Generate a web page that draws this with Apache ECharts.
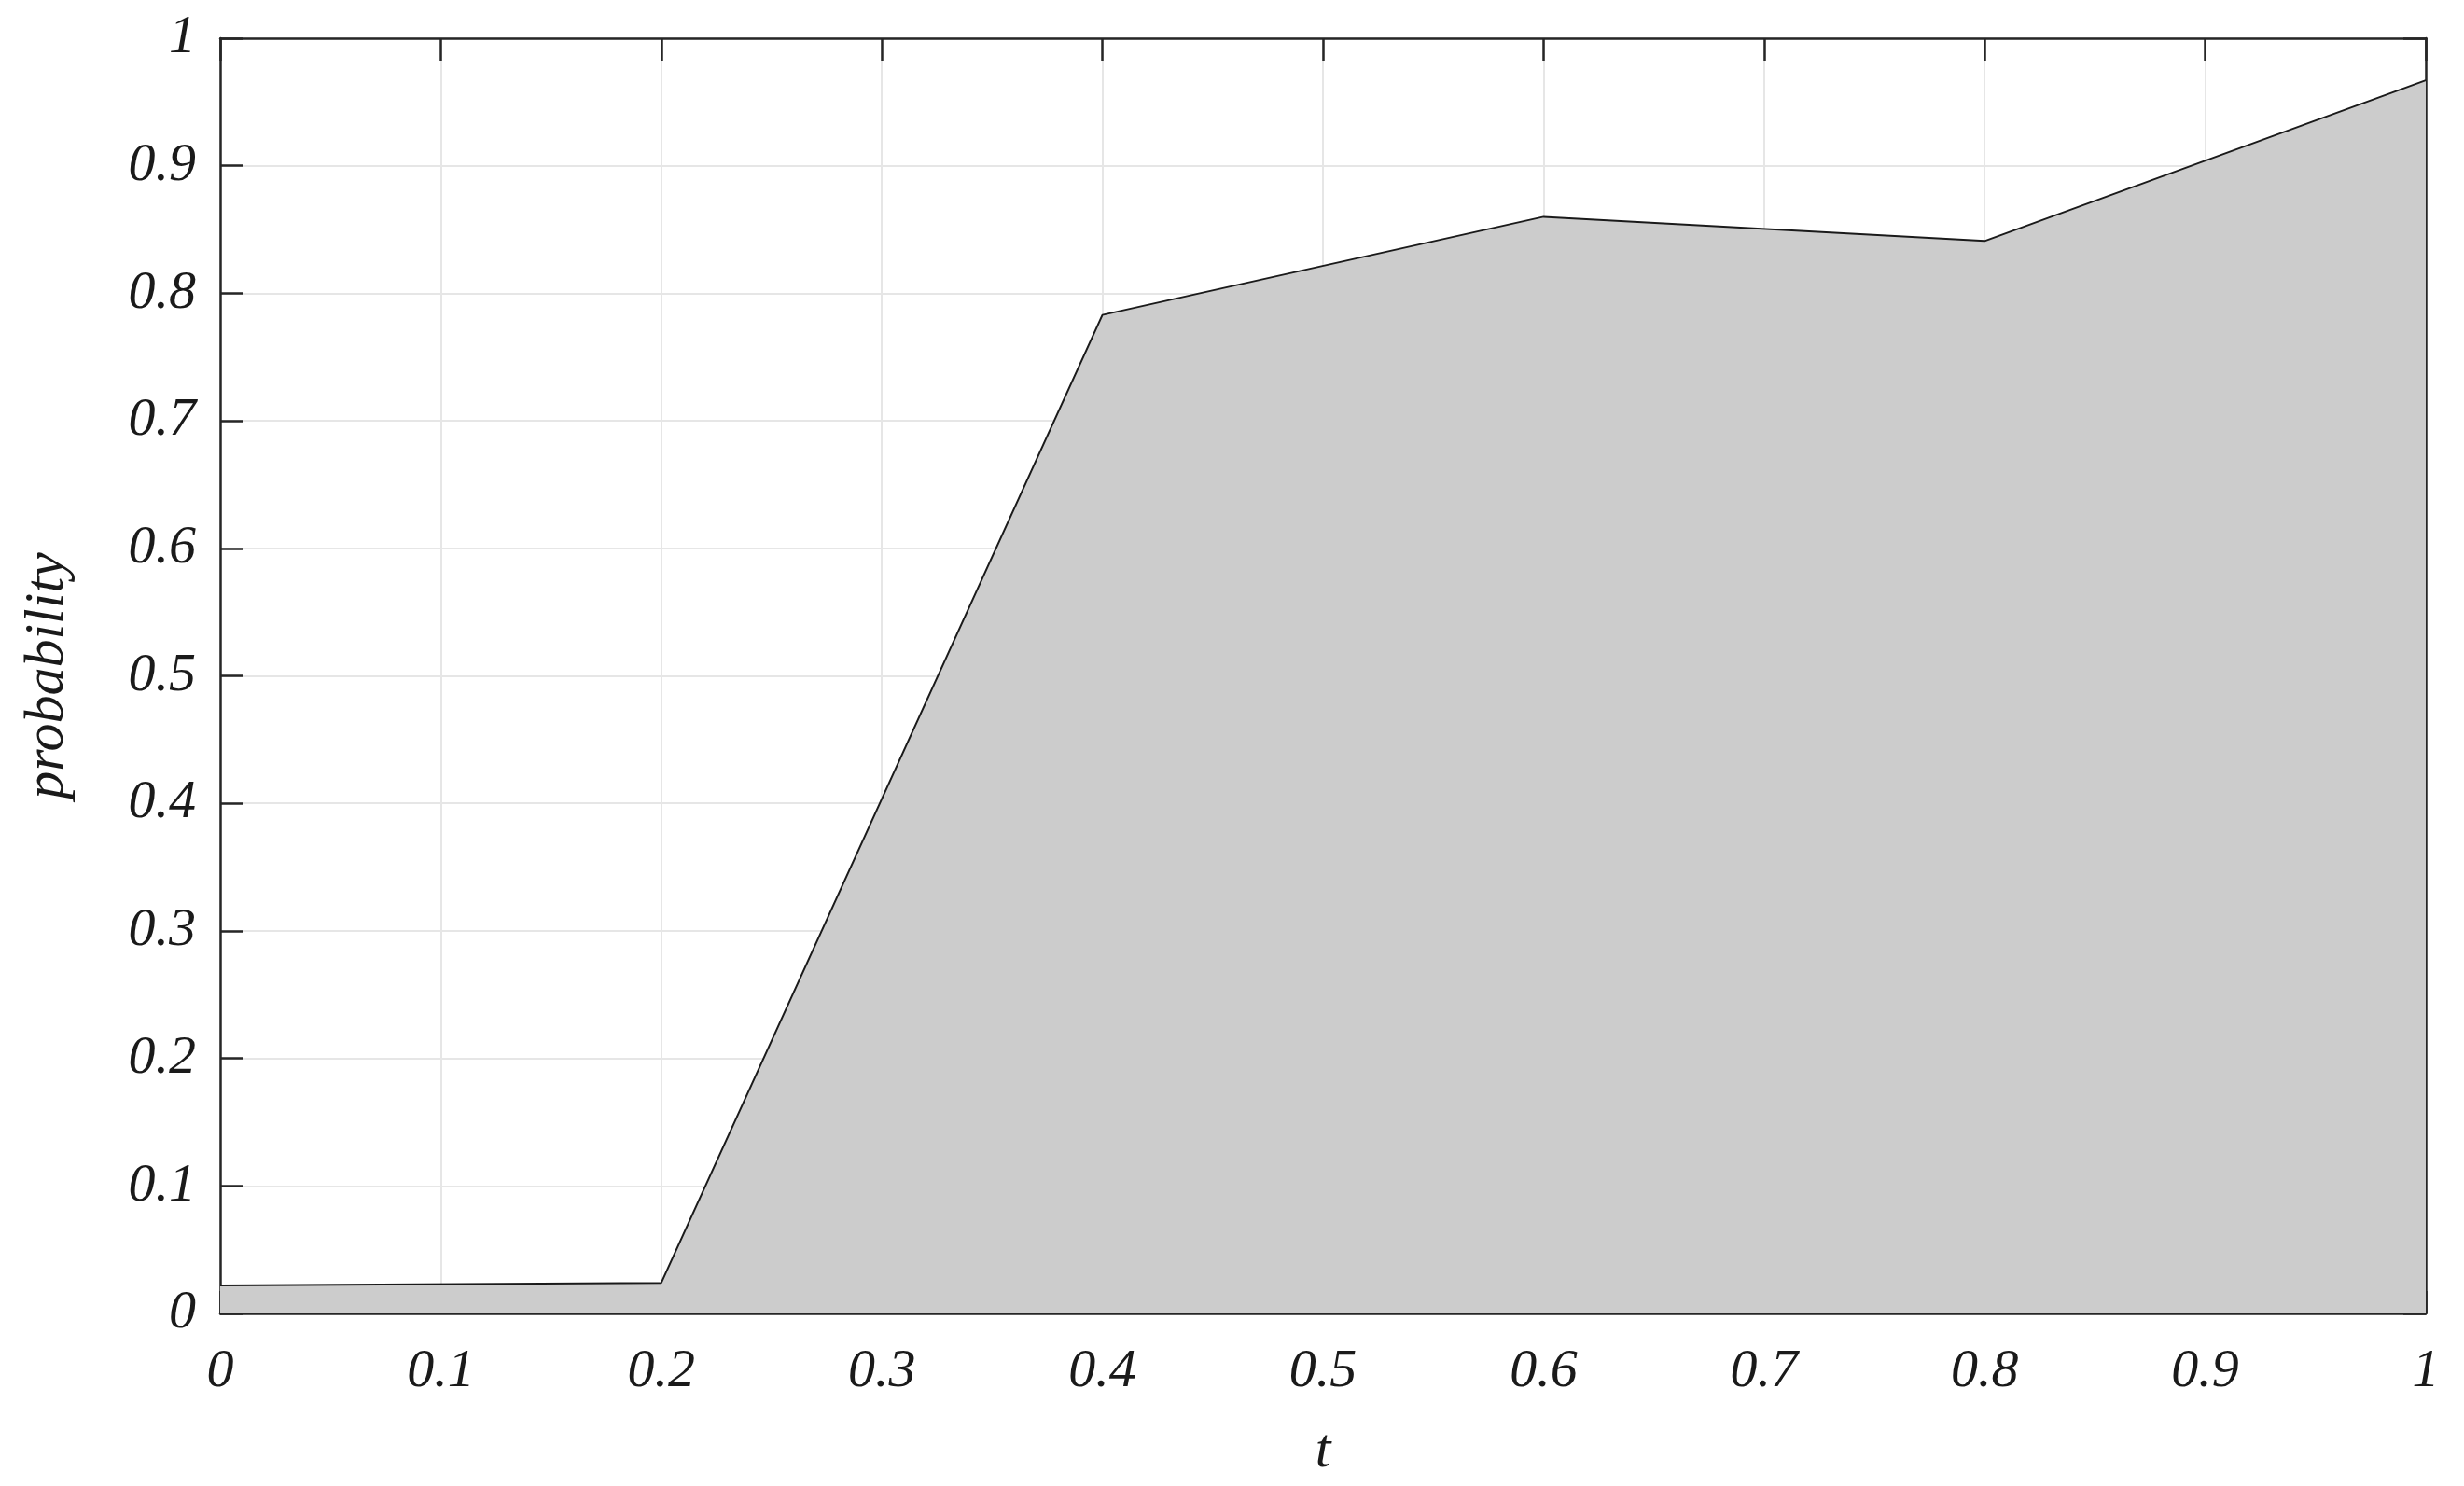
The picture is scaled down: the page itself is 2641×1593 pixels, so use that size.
<!DOCTYPE html>
<html>
<head>
<meta charset="utf-8">
<script src="https://cdn.jsdelivr.net/npm/echarts@6/dist/echarts.min.js"></script>
<style>
html,body{margin:0;padding:0;background:#fff;}
#chart{width:2641px;height:1593px;}
</style>
</head>
<body>
<div id="chart"></div>
<script>
const tValues = [0, 0.2, 0.4, 0.6, 0.8, 1.0];
const probValues = [0.022, 0.024, 0.783, 0.860, 0.841, 0.967];
const xTickLabels = ['0','0.1','0.2','0.3','0.4','0.5','0.6','0.7','0.8','0.9','1'];
const yTickLabels = ['0','0.1','0.2','0.3','0.4','0.5','0.6','0.7','0.8','0.9','1'];
const xTitle = 't';
const yTitle = 'probability';

const fontFam = '"Liberation Serif", "DejaVu Serif", serif';
const axisColor = '#262626';
const labelStyle = {fontFamily: fontFam, fontStyle: 'italic', fontSize: 58, color: '#1a1a1a'};

function fmt(list){ return function(v){ const i = Math.round(v*10); return list[i] !== undefined ? list[i] : ''; }; }

const chart = echarts.init(document.getElementById('chart'), null, {renderer: 'canvas'});
chart.setOption({
  backgroundColor: '#ffffff',
  animation: false,
  grid: {left: 236, right: 41, top: 41, bottom: 185, containLabel: false, outerBoundsMode: 'none'},
  xAxis: [
    {
      type: 'value', min: 0, max: 1, interval: 0.1, position: 'bottom',
      name: xTitle, nameLocation: 'middle', nameGap: 118,
      nameTextStyle: Object.assign({}, labelStyle, {fontSize: 60}),
      axisLine: {show: true, onZero: false, lineStyle: {color: axisColor, width: 2.5}},
      axisTick: {show: true, inside: true, length: 24, lineStyle: {color: axisColor, width: 2.5}},
      axisLabel: Object.assign({}, labelStyle, {margin: 34, formatter: fmt(xTickLabels)}),
      splitLine: {show: true, lineStyle: {color: '#e6e6e6', width: 2}}
    },
    {
      type: 'value', min: 0, max: 1, interval: 0.1, position: 'top',
      axisLine: {show: true, onZero: false, lineStyle: {color: axisColor, width: 2.5}},
      axisTick: {show: true, inside: true, length: 24, lineStyle: {color: axisColor, width: 2.5}},
      axisLabel: {show: false},
      splitLine: {show: false}
    }
  ],
  yAxis: [
    {
      type: 'value', min: 0, max: 1, interval: 0.1, position: 'left',
      name: yTitle, nameLocation: 'middle', nameGap: 155, nameRotate: 90,
      nameTextStyle: Object.assign({}, labelStyle, {fontSize: 60}),
      axisLine: {show: true, onZero: false, lineStyle: {color: axisColor, width: 2.5}},
      axisTick: {show: true, inside: true, length: 24, lineStyle: {color: axisColor, width: 2.5}},
      axisLabel: Object.assign({}, labelStyle, {margin: 26, formatter: fmt(yTickLabels)}),
      splitLine: {show: true, lineStyle: {color: '#e6e6e6', width: 2}}
    },
    {
      type: 'value', min: 0, max: 1, interval: 0.1, position: 'right',
      axisLine: {show: true, onZero: false, lineStyle: {color: axisColor, width: 2.5}},
      axisTick: {show: true, inside: true, length: 24, lineStyle: {color: axisColor, width: 2.5}},
      axisLabel: {show: false},
      splitLine: {show: false}
    }
  ],
  series: [{
    type: 'line',
    xAxisIndex: 0, yAxisIndex: 0,
    data: tValues.map((t, i) => [t, probValues[i]]),
    showSymbol: false,
    lineStyle: {color: '#1a1a1a', width: 2},
    areaStyle: {color: '#cccccc', opacity: 1},
    z: 1
  }]
});
</script>
</body>
</html>
